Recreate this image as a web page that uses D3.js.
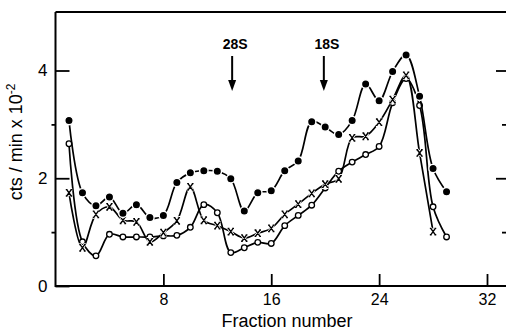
<!DOCTYPE html>
<html>
<head>
<meta charset="utf-8">
<script src="https://d3js.org/d3.v7.min.js"></script>
<style>
  body { margin: 0; background: #fff; }
  svg { display: block; }
  text { font-family: "Liberation Sans", Arial, sans-serif; fill: #000; }
</style>
</head>
<body>
<div class="js-chart"></div>
<script>
let w = 506;
let h = 334;

// fractions and counts (cts/min x 10^-2)
let fractionsFilled = [1,2,3,4,5,6,7,8,9,10,11,12,13,14,15,16,17,18,19,20,21,22,23,24,25,26,27,28,29];
let filledVals = [3.07,1.73,1.49,1.65,1.35,1.51,1.27,1.31,1.92,2.10,2.14,2.13,1.99,1.39,1.73,1.77,2.14,2.32,3.05,2.95,2.81,3.07,3.75,3.44,3.98,4.29,3.52,2.18,1.75];

let fractionsCross = [1,2,3,4,5,6,7,8,9,10,11,12,13,14,15,16,17,18,19,20,21,22,23,24,25,26,27,28];
let crossVals = [1.73,0.71,1.33,1.47,1.22,1.19,0.82,0.99,1.21,1.84,1.22,1.12,1.01,0.89,0.98,1.07,1.33,1.52,1.72,1.89,1.99,2.75,2.78,3.04,3.46,3.91,2.47,1.01];

let fractionsOpen = [1,2,3,4,5,6,7,8,9,10,11,12,13,14,15,16,17,18,19,20,21,22,23,24,25,26,27,28,29];
let openVals = [2.64,0.82,0.56,0.96,0.91,0.91,0.91,0.93,0.94,1.09,1.51,1.36,0.62,0.71,0.81,0.79,1.12,1.31,1.50,1.82,2.13,2.30,2.44,2.59,3.40,3.85,3.35,1.47,0.91];

let xTicks = [8, 16, 24, 32];
let yMajorTicks = [0, 2, 4];
let yMinorTicks = [1, 3];
let markerLabels = ['28S', '18S'];
let markerFractions = [13.1, 19.9];

let svg = d3.select('.js-chart').append('svg').attr('width', w).attr('height', h);

let x = d3.scaleLinear().domain([0, 32]).range([55.5, 487]);
let y = d3.scaleLinear().domain([0, 4]).range([286, 70.5]);
let rightEdge = 510;
let topEdge = 12;

// frame lines
svg.append('path')
   .attr('d', `M${x(0)},${topEdge}L${rightEdge},${topEdge}M${x(0)},${topEdge}L${x(0)},${y(0)}L${rightEdge},${y(0)}`)
   .style('fill', 'none').style('stroke', '#000').style('stroke-width', 2);

// left axis: long inner ticks with labels, short outer minor ticks
let leftMajor = svg.append('g').attr('transform', `translate(${x(0)},0)`)
   .call(d3.axisLeft(y).tickValues(yMajorTicks).tickSizeInner(-14).tickSizeOuter(0).tickPadding(8).tickFormat(d3.format('d')));
leftMajor.select('.domain').remove();
leftMajor.selectAll('line').style('stroke-width', 1.8);
leftMajor.selectAll('text').style('font-size', '17px').style('font-family', '"Liberation Sans", Arial, sans-serif');

let leftMinor = svg.append('g').attr('transform', `translate(${x(0)},0)`)
   .call(d3.axisLeft(y).tickValues(yMinorTicks).tickSizeInner(4).tickSizeOuter(0).tickFormat(''));
leftMinor.select('.domain').remove();
leftMinor.selectAll('line').style('stroke-width', 1.8);

// right axis ticks (axis itself sits just past the crop)
let rightMajor = svg.append('g').attr('transform', `translate(${rightEdge},0)`)
   .call(d3.axisLeft(y).tickValues([2, 4]).tickSizeInner(14).tickSizeOuter(0).tickFormat(''));
rightMajor.select('.domain').remove();
rightMajor.selectAll('line').style('stroke-width', 1.8);
let rightMinor = svg.append('g').attr('transform', `translate(${rightEdge},0)`)
   .call(d3.axisLeft(y).tickValues(yMinorTicks).tickSizeInner(8).tickSizeOuter(0).tickFormat(''));
rightMinor.select('.domain').remove();
rightMinor.selectAll('line').style('stroke-width', 1.8);

// bottom axis
let bottom = svg.append('g').attr('transform', `translate(0,${y(0)})`)
   .call(d3.axisBottom(x).tickValues(xTicks).tickSizeInner(-12).tickSizeOuter(0).tickPadding(8).tickFormat(d3.format('d')));
bottom.select('.domain').remove();
bottom.selectAll('line').style('stroke-width', 1.8);
bottom.selectAll('text').style('font-size', '16px').style('font-family', '"Liberation Sans", Arial, sans-serif');

svg.append('text').attr('x', 287).attr('y', 327)
   .attr('text-anchor', 'middle').style('font-size', '18px').text('Fraction number');

let yLabel = svg.append('text').attr('transform', 'translate(22,142) rotate(-90)')
   .attr('text-anchor', 'middle').style('font-size', '18px');
yLabel.append('tspan').text('cts / min x 10');
yLabel.append('tspan').attr('dy', -7).style('font-size', '12px').text('-2');

// sedimentation markers
for (let i = 0; i < markerLabels.length; i++) {
  let mx = x(markerFractions[i]);
  svg.append('text').attr('x', mx + 3).attr('y', 49)
     .attr('text-anchor', 'middle').style('font-size', '14px').style('font-weight', 'bold')
     .text(markerLabels[i]);
  svg.append('line').attr('x1', mx).attr('x2', mx).attr('y1', 56).attr('y2', 82)
     .style('stroke', '#000').style('stroke-width', 2);
  svg.append('path').attr('d', `M${mx - 4},80L${mx + 4},80L${mx},91Z`).style('fill', '#000');
}

let line = d3.line().curve(d3.curveCatmullRom.alpha(0.5));

function crossPath(p) {
  let a = 2.3, b = 3.2;
  return `M${p[0] - a},${p[1] - b}L${p[0] + a},${p[1] + b}M${p[0] + a},${p[1] - b}L${p[0] - a},${p[1] + b}` +
         `M${p[0] - a - 0.9},${p[1] - b}L${p[0] - a + 0.9},${p[1] - b}M${p[0] + a - 0.9},${p[1] - b}L${p[0] + a + 0.9},${p[1] - b}` +
         `M${p[0] - a - 0.9},${p[1] + b}L${p[0] - a + 0.9},${p[1] + b}M${p[0] + a - 0.9},${p[1] + b}L${p[0] + a + 0.9},${p[1] + b}`;
}

function drawSeries(fractions, vals, kind) {
  let pts = fractions.map((f, i) => [x(f), y(vals[i])]);
  svg.append('path').attr('d', line(pts))
     .style('fill', 'none').style('stroke', '#000').style('stroke-width', 1.7);

  let g = svg.append('g');
  pts.forEach(p => {
    if (kind === 'filled') {
      g.append('circle').attr('cx', p[0]).attr('cy', p[1]).attr('r', 4.2)
       .style('fill', '#000').style('stroke', '#fff').style('stroke-width', 1.4);
    } else if (kind === 'open') {
      g.append('circle').attr('cx', p[0]).attr('cy', p[1]).attr('r', 2.8)
       .style('fill', '#fff').style('stroke', '#000').style('stroke-width', 1.3);
    } else {
      g.append('path').attr('d', crossPath(p))
       .style('fill', 'none').style('stroke', '#fff').style('stroke-width', 3);
      g.append('path').attr('d', crossPath(p))
       .style('fill', 'none').style('stroke', '#000').style('stroke-width', 1.4);
    }
  });
}

drawSeries(fractionsOpen, openVals, 'open');
drawSeries(fractionsCross, crossVals, 'cross');
drawSeries(fractionsFilled, filledVals, 'filled');
</script>
</body>
</html>
